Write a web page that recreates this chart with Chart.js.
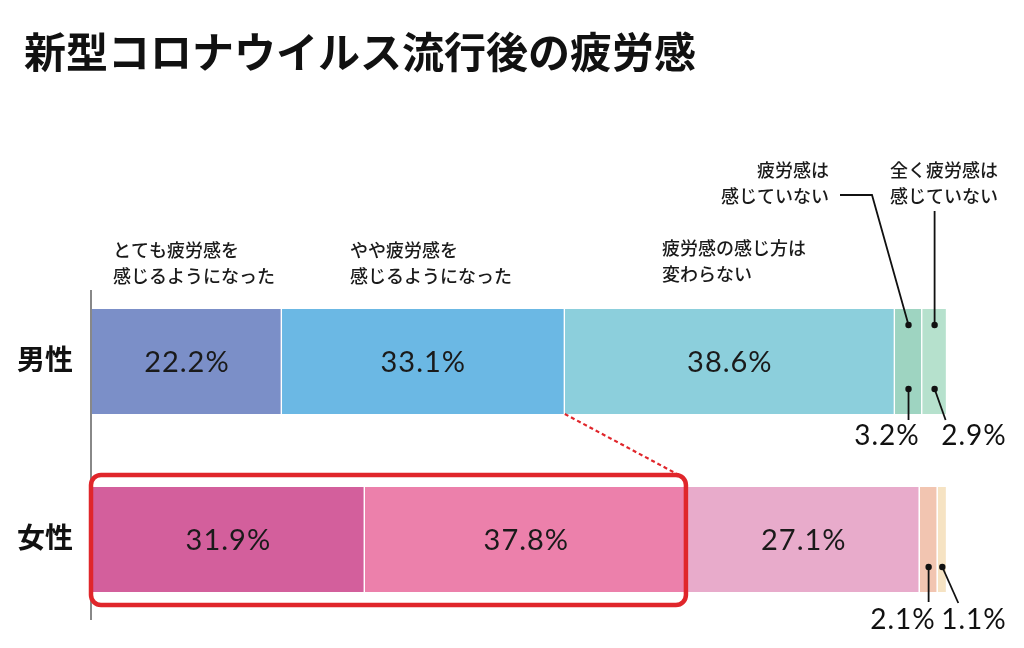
<!DOCTYPE html>
<html>
<head>
<meta charset="utf-8">
<script src="https://cdn.jsdelivr.net/npm/chart.js@4.4.1/dist/chart.umd.min.js"></script>
<style>
  html, body { margin: 0; padding: 0; background: #fff; }
  #wrap { width: 1024px; height: 648px; position: relative; }
</style>
</head>
<body>
<div id="wrap"><canvas id="myChart" width="1024" height="648"></canvas></div>
<script>
// Data
const categories = ['男性', '女性'];
const seriesNames = [
  ['とても疲労感を', '感じるようになった'],
  ['やや疲労感を', '感じるようになった'],
  ['疲労感の感じ方は', '変わらない'],
  ['疲労感は', '感じていない'],
  ['全く疲労感は', '感じていない']
];
const maleValues = [22.2, 33.1, 38.6, 3.2, 2.9];
const femaleValues = [31.9, 37.8, 27.1, 2.1, 1.1];
const maleColors = ['#7b8fc8', '#6bb8e4', '#8ccfdc', '#9ed4c1', '#b6e1cd'];
const femaleColors = ['#d35f9c', '#ec80ab', '#e8abcb', '#f2c5b1', '#f6e3c3'];
const titleText = '新型コロナウイルス流行後の疲労感';

const JP = '"Noto Sans CJK JP", "Noto Sans", sans-serif';
const NUM = 'Lato, "Noto Sans", sans-serif';

const datasets = maleValues.map((v, i) => ({
  label: seriesNames[i].join(''),
  data: [maleValues[i], femaleValues[i]],
  backgroundColor: [maleColors[i], femaleColors[i]],
  borderColor: '#ffffff',
  borderWidth: { top: 0, bottom: 0, left: 0, right: 1.5 },
  borderSkipped: false,
  barThickness: 105
}));

const fmt = v => v.toFixed(1) + '%';

const decorPlugin = {
  id: 'decor',
  beforeDraw(chart) {
    const c = chart.ctx;
    c.save();
    c.fillStyle = '#fff';
    c.fillRect(0, 0, chart.width, chart.height);
    // title
    c.fillStyle = '#111';
    c.font = 'bold 42px ' + JP;
    c.textBaseline = 'middle';
    c.textAlign = 'left';
    c.fillText(titleText, 24, 52);
    // series header labels
    c.font = '500 18px ' + JP;
    c.fillStyle = '#1a1a1a';
    const hdr = [
      { x: 113, y: 250, align: 'left' },
      { x: 350, y: 250, align: 'left' },
      { x: 662, y: 248, align: 'left' },
      { x: 829, y: 170, align: 'right' },
      { x: 890, y: 170, align: 'left' }
    ];
    hdr.forEach((h, i) => {
      c.textAlign = h.align;
      seriesNames[i].forEach((line, j) => c.fillText(line, h.x, h.y + j * 26));
    });
    // category labels
    const ys = chart.scales.y;
    c.font = 'bold 28px ' + JP;
    c.fillStyle = '#111';
    c.textAlign = 'left';
    categories.forEach((cat, i) => c.fillText(cat, 17, ys.getPixelForValue(i) - 2));
    // axis line
    c.strokeStyle = '#888';
    c.lineWidth = 2;
    c.beginPath();
    c.moveTo(chart.chartArea.left - 1, 290);
    c.lineTo(chart.chartArea.left - 1, 620);
    c.stroke();
    c.restore();
  },
  afterDatasetsDraw(chart) {
    const c = chart.ctx;
    c.save();
    // values inside bars
    c.font = '29px ' + NUM;
    c.letterSpacing = '1px';
    c.fillStyle = '#1a1a1a';
    c.textAlign = 'center';
    c.textBaseline = 'middle';
    for (let d = 0; d < 3; d++) {
      chart.getDatasetMeta(d).data.forEach((el, i) => {
        const v = chart.data.datasets[d].data[i];
        c.fillText(fmt(v), (el.x + el.base) / 2, el.y + 1);
      });
    }
    const seg = (d, i) => {
      const el = chart.getDatasetMeta(d).data[i];
      return { cx: (el.x + el.base) / 2, top: el.y - el.height / 2, bot: el.y + el.height / 2 };
    };
    const dot = (x, y) => { c.beginPath(); c.arc(x, y, 3.2, 0, Math.PI * 2); c.fill(); };
    c.strokeStyle = '#111';
    c.fillStyle = '#111';
    c.lineWidth = 1.8;
    // top leader lines (male)
    const m3 = seg(3, 0), m4 = seg(4, 0);
    c.beginPath();
    c.moveTo(840, 195); c.lineTo(872, 195); c.lineTo(m3.cx, m3.top + 16);
    c.moveTo(m4.cx, 211); c.lineTo(m4.cx, m4.top + 16);
    c.stroke();
    dot(m3.cx, m3.top + 16); dot(m4.cx, m4.top + 16);
    // bottom leader lines + small value labels
    const small = [
      { d: 3, i: 0, dx: 0, drop: 6, lx: 887, ly: 436 },
      { d: 4, i: 0, dx: 11, drop: 6, lx: 974, ly: 436 },
      { d: 3, i: 1, dx: 0, drop: 10, lx: 903, ly: 620 },
      { d: 4, i: 1, dx: 16, drop: 11, lx: 974, ly: 620 }
    ];
    c.font = '28px ' + NUM;
    small.forEach(s => {
      const g = seg(s.d, s.i);
      const y0 = g.bot - 25;
      c.beginPath();
      c.moveTo(g.cx, y0);
      c.lineTo(g.cx + s.dx, g.bot + s.drop);
      c.stroke();
      dot(g.cx, y0);
      c.fillText(fmt(chart.data.datasets[s.d].data[s.i]), s.lx, s.ly);
    });
    // highlight box around female top two segments
    const f0 = chart.getDatasetMeta(0).data[1];
    const f1 = chart.getDatasetMeta(1).data[1];
    const mb = chart.getDatasetMeta(1).data[0];
    const bx0 = f0.base - 1, bx1 = f1.x - 2;
    const by0 = f0.y - f0.height / 2 - 12, by1 = f0.y + f0.height / 2 + 13;
    c.strokeStyle = '#e0262b';
    c.lineWidth = 4.5;
    c.beginPath();
    c.roundRect(bx0, by0, bx1 - bx0, by1 - by0, 10);
    c.stroke();
    // dotted connector
    c.lineWidth = 2.2;
    c.setLineDash([4, 3]);
    c.beginPath();
    c.moveTo(mb.x, mb.y + mb.height / 2);
    c.lineTo(bx1 - 7, by0);
    c.stroke();
    c.restore();
  }
};

const ctx = document.getElementById('myChart').getContext('2d');
const chart = new Chart(ctx, {
  type: 'bar',
  data: { labels: categories, datasets: datasets },
  options: {
    indexAxis: 'y',
    responsive: false,
    animation: false,
    layout: { padding: { left: 92, right: 77, top: 272.5, bottom: 19.5 } },
    plugins: { legend: { display: false }, tooltip: { enabled: false } },
    scales: {
      x: { stacked: true, min: 0, max: 100, display: false },
      y: { stacked: true, display: false }
    }
  },
  plugins: [decorPlugin]
});
</script>
</body>
</html>
